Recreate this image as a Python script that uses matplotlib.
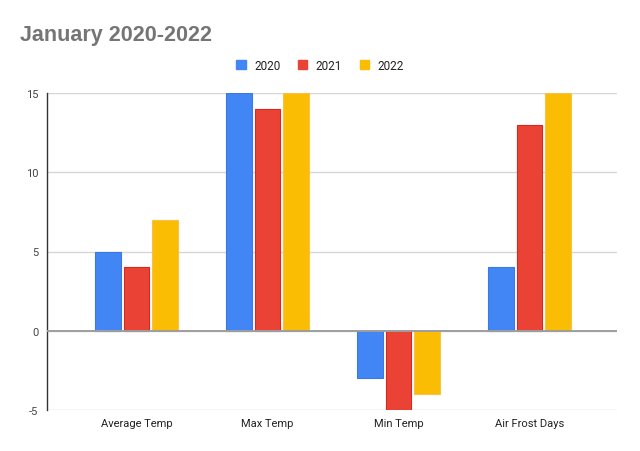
import matplotlib
matplotlib.use("Agg")
import matplotlib.pyplot as plt
import matplotlib.patches as mpatches
import numpy as np

# ── Data ─────────────────────────────────────────────────────────────────────
categories = ["Average Temp", "Max Temp", "Min Temp", "Air Frost Days"]
years      = ["2020", "2021", "2022"]
vals_2020  = [5, 15, -3, 4]
vals_2021  = [4, 14, -5, 13]
vals_2022  = [7, 15, -4, 15]
y_ticks    = [-5, 0, 5, 10, 15]

COLORS = ["#4285F4", "#EA4335", "#FBBC04"]
EDGES  = ["#3B78E0", "#D8281C", "#F5C24A"]

plt.rcParams["font.family"] = ["Roboto", "DejaVu Sans"]

fig = plt.figure(figsize=(6.4, 4.52), dpi=100)
ax = fig.add_axes([47 / 640, 1 - 411 / 452, 570 / 640, 317 / 452])

x = np.arange(len(categories))
width = 0.198
pitch = 0.219
for i, (vals, c, e, lab) in enumerate(zip([vals_2020, vals_2021, vals_2022], COLORS, EDGES, years)):
    ax.bar(x + (i - 1) * pitch, vals, width, color=c, edgecolor=e, linewidth=0.8,
           label=lab, zorder=3)

ax.set_xlim(-0.683, 3.668)
ax.set_ylim(-5, 15)
ax.set_yticks(y_ticks)
ax.set_yticklabels([str(v) for v in y_ticks])
ax.set_xticks(x)
ax.set_xticklabels(categories)

ax.grid(axis="y", color="#d6d6d6", linewidth=1, zorder=0)
ax.axhline(0, color="#9e9e9e", linewidth=1.4, zorder=4)
for s in ["top", "right", "bottom"]:
    ax.spines[s].set_visible(False)
ax.spines["left"].set_color("#333333")
ax.spines["left"].set_linewidth(1)
ax.tick_params(axis="both", length=0, labelsize=8, colors="#444444")
ax.tick_params(axis="x", pad=6, labelcolor="#222222")
ax.tick_params(axis="y", pad=6)

fig.text(20 / 640, 1 - 35 / 452, "January 2020-2022", fontsize=15.5, fontweight="bold",
         color="#757575", family=["Liberation Sans", "DejaVu Sans"], va="center")

handles = [mpatches.Patch(color=c, label=y) for c, y in zip(COLORS, years)]
fig.legend(handles=handles, loc="center", bbox_to_anchor=(0.5, 1 - 66 / 452), ncol=3,
           frameon=False, fontsize=8.5, handlelength=0.8, handleheight=0.8,
           columnspacing=1.5, handletextpad=0.7, labelcolor="#222222")

plt.savefig("out.png", dpi=100)
